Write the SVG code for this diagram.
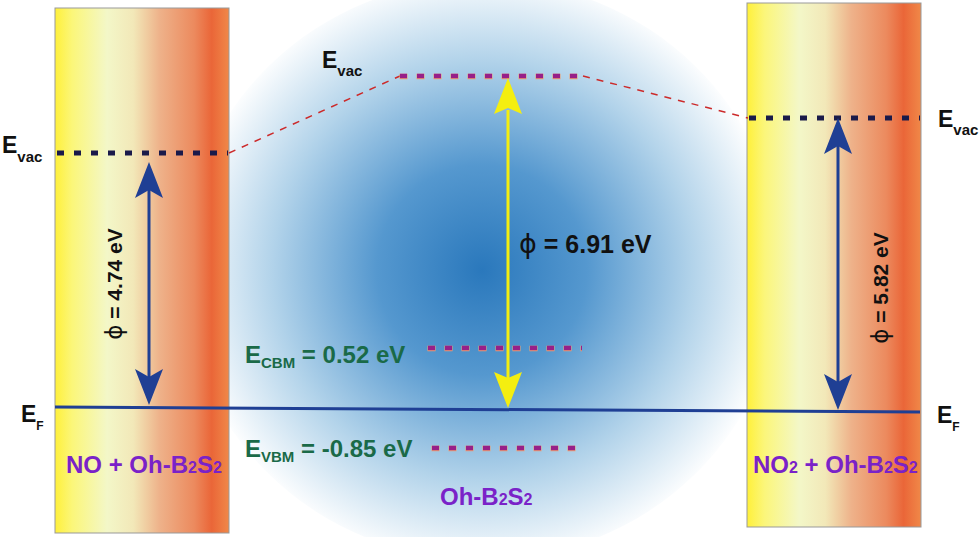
<svg xmlns="http://www.w3.org/2000/svg" width="980" height="537" viewBox="0 0 980 537">
<defs>
<radialGradient id="blue" cx="482" cy="270" r="300" gradientUnits="userSpaceOnUse">
<stop offset="0" stop-color="#2a78bc"/>
<stop offset="0.35" stop-color="#5598cf"/>
<stop offset="0.7" stop-color="#b2d3ea"/>
<stop offset="1" stop-color="#ffffff"/>
</radialGradient>
<linearGradient id="bar" x1="0" y1="0" x2="1" y2="0">
<stop offset="0" stop-color="#fff03a"/>
<stop offset="0.1" stop-color="#fbf67a"/>
<stop offset="0.3" stop-color="#f3f7c8"/>
<stop offset="0.45" stop-color="#f2e8b8"/>
<stop offset="0.6" stop-color="#eeb28a"/>
<stop offset="0.8" stop-color="#ec8a5e"/>
<stop offset="0.9" stop-color="#ea6638"/>
<stop offset="1" stop-color="#f08848"/>
</linearGradient>
<style>
.vac{stroke:#1a1a4a;stroke-width:5;stroke-dasharray:7 10;fill:none}
.magu{stroke:#eea070;stroke-width:5.5;stroke-dasharray:8 9;fill:none}
.mag{stroke:#981f88;stroke-width:4.5;stroke-dasharray:7 10;fill:none}
.red{stroke:#cc2a2a;stroke-width:1.5;stroke-dasharray:7 7;fill:none}
.bar{fill:url(#bar);stroke:#999;stroke-width:1}
.t{font-family:"Liberation Sans",Arial,sans-serif;font-weight:bold}
.phi{font-family:"DejaVu Sans",sans-serif;font-weight:normal}
.blk{fill:#111}
.grn{fill:#1a6a48}
.pur{fill:#7a22c8}
.nline{stroke:#1f3f94;stroke-width:3;fill:none}
.yline{stroke:#f4ee10;stroke-width:3;fill:none}
</style>
</defs>
<rect width="980" height="537" fill="#ffffff"/>
<ellipse cx="482" cy="270" rx="300" ry="290" fill="url(#blue)"/>

<g id="left-bar">
<rect class="bar" x="55" y="8" width="174" height="525"/>
<text class="t pur" x="66" y="473" font-size="24">NO + Oh-B<tspan font-size="16">2</tspan>S<tspan font-size="16">2</tspan></text>
</g>
<g id="right-bar">
<rect class="bar" x="747" y="3" width="174" height="524"/>
<text class="t pur" x="753" y="473" font-size="24">NO<tspan font-size="16">2</tspan> + Oh-B<tspan font-size="16">2</tspan>S<tspan font-size="16">2</tspan></text>
</g>

<g id="connectors">
<path class="red" d="M229,153 L400,76"/>
<path class="red" d="M583,76 L748,118"/>
<path class="vac" d="M57,153 H228"/>
<path class="vac" d="M749,118 H920"/>
<path class="magu" d="M399.5,76.5 H583"/>
<path class="mag" d="M400,76 H583"/>
<path class="magu" d="M427.5,348.5 H582"/>
<path class="mag" d="M428,348 H582"/>
<path class="magu" d="M431.5,448.5 H584"/>
<path class="mag" d="M432,448 H584"/>
<path d="M55,407 L920,412" stroke="#1f3f94" stroke-width="3" fill="none"/>
<line class="nline" x1="149" y1="190" x2="149" y2="380"/>
<path d="M149,162 L163,198 L149,190 L135,198 Z" fill="#1f3f94"/>
<path d="M149,405 L163,369 L149,377 L135,369 Z" fill="#1f3f94"/>
<line class="nline" x1="838" y1="145" x2="838" y2="385"/>
<path d="M838,118 L852,154 L838,146 L824,154 Z" fill="#1f3f94"/>
<path d="M838,410 L852,374 L838,382 L824,374 Z" fill="#1f3f94"/>
<line class="yline" x1="508" y1="110" x2="508" y2="380"/>
<path d="M508,78 L522,114 L508,108 L494,114 Z" fill="#f4ee10"/>
<path d="M508,408 L522,372 L508,378 L494,372 Z" fill="#f4ee10"/>
</g>

<g id="labels">
<text class="t blk" x="2" y="153" font-size="23">E<tspan font-size="15" dy="9">vac</tspan></text>
<text class="t blk" x="322" y="68" font-size="23">E<tspan font-size="15" dy="8">vac</tspan></text>
<text class="t blk" x="938" y="127" font-size="23">E<tspan font-size="15" dy="8">vac</tspan></text>
<text class="t blk" x="21" y="422" font-size="23">E<tspan font-size="12" dy="8">F</tspan></text>
<text class="t blk" x="937" y="423" font-size="23">E<tspan font-size="12" dy="8">F</tspan></text>
<text class="t blk" x="519" y="253" font-size="25"><tspan class="phi" font-size="27">ϕ</tspan> = 6.91 eV</text>
<text class="t blk" transform="translate(122 284) rotate(-90)" text-anchor="middle" font-size="21"><tspan class="phi" font-size="23">ϕ</tspan> = 4.74 eV</text>
<text class="t blk" transform="translate(888 288) rotate(-90)" text-anchor="middle" font-size="21"><tspan class="phi" font-size="23">ϕ</tspan> = 5.82 eV</text>
<text class="t grn" x="245" y="363" font-size="24">E<tspan font-size="15" dy="5">CBM</tspan><tspan dy="-5"> = 0.52 eV</tspan></text>
<text class="t grn" x="245" y="457" font-size="24">E<tspan font-size="15" dy="5">VBM</tspan><tspan dy="-5"> = -0.85 eV</tspan></text>
<text class="t pur" x="440" y="505" font-size="24">Oh-B<tspan font-size="16">2</tspan>S<tspan font-size="16">2</tspan></text>
</g>
</svg>
